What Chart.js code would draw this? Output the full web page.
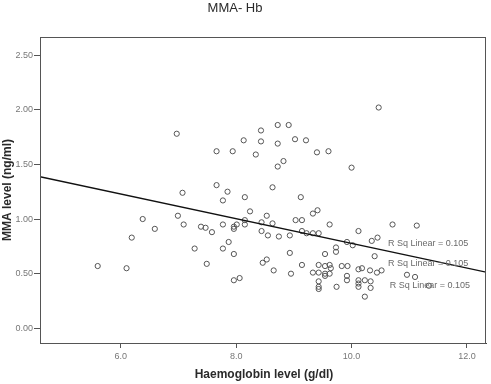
<!DOCTYPE html>
<html>
<head>
<meta charset="utf-8">
<script src="https://cdn.jsdelivr.net/npm/chart.js@4.4.1/dist/chart.umd.min.js"></script>
<style>
  html, body { margin: 0; padding: 0; background: #fff; }
  #wrap { width: 491px; height: 384px; }
</style>
</head>
<body>
<div id="wrap"><canvas id="c" width="491" height="384"></canvas></div>
<script>
// Haemoglobin level (g/dl) for each subject
const hbLevel = [
  6.97, 7.66, 7.94, 8.13, 8.43, 8.43, 8.34, 8.72, 8.91, 8.72,
  9.02, 9.21, 9.40, 9.60, 10.47, 8.72, 8.82, 10.00, 7.07, 7.66,
  7.85, 7.77, 8.15, 8.24, 8.63, 9.12, 9.41, 9.33, 6.38, 6.99,
  6.59, 7.09, 6.19, 7.39, 7.47, 7.58, 7.77, 7.96, 7.96, 8.01,
  8.15, 8.15, 8.44, 8.53, 8.44, 8.55, 7.28, 7.87, 7.77, 7.96,
  7.49, 5.60, 6.10, 8.46, 8.53, 7.96, 8.06, 8.63, 9.03, 9.14,
  9.62, 10.12, 8.74, 8.93, 9.14, 9.22, 9.33, 9.43, 9.92, 10.02,
  10.35, 10.45, 8.93, 9.73, 9.73, 9.54, 8.65, 8.95, 9.14, 9.33,
  9.43, 9.54, 9.62, 9.64, 9.43, 9.54, 9.62, 9.43, 9.43, 9.43,
  9.54, 9.74, 9.83, 9.93, 9.92, 9.92, 10.12, 10.12, 10.12, 10.12,
  10.23, 10.23, 10.32, 10.71, 11.13, 10.40, 10.18, 10.44, 10.52, 10.33,
  10.33, 10.96, 11.10, 11.34
];
// MMA level (ng/ml) for each subject
const mmaLevel = [
  1.78, 1.62, 1.62, 1.72, 1.81, 1.71, 1.59, 1.86, 1.86, 1.69,
  1.73, 1.72, 1.61, 1.62, 2.02, 1.48, 1.53, 1.47, 1.24, 1.31,
  1.25, 1.17, 1.20, 1.07, 1.29, 1.20, 1.08, 1.05, 1.00, 1.03,
  0.91, 0.95, 0.83, 0.93, 0.92, 0.88, 0.95, 0.93, 0.91, 0.95,
  0.95, 0.99, 0.97, 1.03, 0.89, 0.85, 0.73, 0.79, 0.73, 0.68,
  0.59, 0.57, 0.55, 0.60, 0.63, 0.44, 0.46, 0.96, 0.99, 0.99,
  0.95, 0.89, 0.84, 0.85, 0.89, 0.87, 0.87, 0.87, 0.79, 0.76,
  0.80, 0.83, 0.69, 0.74, 0.70, 0.68, 0.53, 0.50, 0.58, 0.51,
  0.58, 0.57, 0.58, 0.55, 0.51, 0.50, 0.50, 0.43, 0.38, 0.36,
  0.48, 0.38, 0.57, 0.57, 0.48, 0.44, 0.54, 0.44, 0.41, 0.38,
  0.44, 0.29, 0.53, 0.95, 0.94, 0.66, 0.55, 0.51, 0.53, 0.43,
  0.37, 0.49, 0.47, 0.39
];
// Linear fit line end points
const fitLineX = [4.60, 12.33];
const fitLineY = [1.387, 0.515];
// Axis ticks
const xTickValues = [6, 8, 10, 12];
const xTickLabels = ['6.0', '8.0', '10.0', '12.0'];
const yTickValues = [0, 0.5, 1.0, 1.5, 2.0, 2.5];
const yTickLabels = ['0.00', '0.50', '1.00', '1.50', '2.00', '2.50'];
// Texts
const chartTitle = 'MMA- Hb';
const xTitle = 'Haemoglobin level (g/dl)';
const yTitle = 'MMA level (ng/ml)';
const rSqText = ['R Sq Linear = 0.105', 'R Sq Linear = 0.105', 'R Sq Linear = 0.105'];
const rSqAnchorX = [10.63, 10.63, 10.66];
const rSqAnchorY = [0.78, 0.59, 0.39];

const FONT = '"Liberation Sans", Arial, Helvetica, sans-serif';
Chart.defaults.font.family = FONT;

const points = hbLevel.map((x, i) => ({ x: x, y: mmaLevel[i] }));
const fitPoints = fitLineX.map((x, i) => ({ x: x, y: fitLineY[i] }));

const decor = {
  id: 'decor',
  afterDatasetsDraw(chart) {
    const ctx = chart.ctx;
    const a = chart.chartArea;
    const xs = chart.scales.x, ys = chart.scales.y;
    ctx.save();
    // box frame
    ctx.strokeStyle = '#555';
    ctx.lineWidth = 1;
    ctx.strokeRect(Math.round(a.left) + 0.5, Math.round(a.top) + 0.5,
                   Math.round(a.right - a.left) - 1, Math.round(a.bottom - a.top));
    // R Sq labels
    ctx.fillStyle = '#6a6a6a';
    ctx.font = '9px ' + FONT;
    ctx.textAlign = 'left';
    ctx.textBaseline = 'middle';
    rSqText.forEach((t, i) => {
      ctx.fillText(t, xs.getPixelForValue(rSqAnchorX[i]), ys.getPixelForValue(rSqAnchorY[i]));
    });
    ctx.restore();
  },
  afterDraw(chart) {
    const ctx = chart.ctx;
    ctx.save();
    ctx.fillStyle = '#2a2a2a';
    ctx.textAlign = 'center';
    ctx.textBaseline = 'middle';
    ctx.font = '13px ' + FONT;
    ctx.fillText(chartTitle, 235, 8);
    ctx.font = 'bold 12px ' + FONT;
    ctx.fillText(xTitle, 264, 375);
    ctx.translate(8, 190);
    ctx.rotate(-Math.PI / 2);
    ctx.fillText(yTitle, 0, 0);
    ctx.restore();
  }
};

new Chart(document.getElementById('c'), {
  type: 'scatter',
  data: {
    datasets: [
      {
        type: 'line',
        data: fitPoints,
        borderColor: '#111',
        borderWidth: 1.3,
        pointRadius: 0,
        fill: false,
        showLine: true
      },
      {
        data: points,
        pointStyle: 'circle',
        pointRadius: 2.6,
        borderWidth: 1,
        borderColor: '#555',
        backgroundColor: 'rgba(0,0,0,0)'
      }
    ]
  },
  options: {
    responsive: false,
    animation: false,
    devicePixelRatio: 1,
    layout: { padding: { top: 37, right: 5, left: 0, bottom: 0 } },
    plugins: { legend: { display: false }, tooltip: { enabled: false }, title: { display: false } },
    scales: {
      x: {
        type: 'linear',
        min: 4.60,
        max: 12.33,
        afterBuildTicks: s => { s.ticks = xTickValues.map(v => ({ value: v })); },
        afterFit: s => { s.height = 41; },
        ticks: {
          autoSkip: false,
          maxRotation: 0,
          font: { size: 9 },
          color: '#777',
          padding: 3,
          callback: (v, i) => xTickLabels[i]
        },
        grid: { drawOnChartArea: false, drawTicks: true, tickLength: 5, color: '#555' },
        border: { display: true, color: '#444' }
      },
      y: {
        type: 'linear',
        min: -0.134,
        max: 2.665,
        afterBuildTicks: s => { s.ticks = yTickValues.map(v => ({ value: v })); },
        afterFit: s => { s.width = 40; },
        ticks: {
          autoSkip: false,
          font: { size: 9 },
          color: '#777',
          padding: 1,
          callback: (v, i) => yTickLabels[i]
        },
        grid: { drawOnChartArea: false, drawTicks: true, tickLength: 6, color: '#555' },
        border: { display: true, color: '#444' }
      }
    }
  },
  plugins: [decor]
});
</script>
</body>
</html>
